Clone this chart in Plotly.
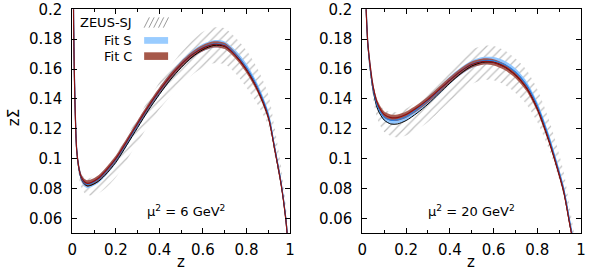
import plotly.graph_objects as go
import numpy as np

# ---------------- data ----------------
# Left panel: mu^2 = 6 GeV^2
z_left = [0.003, 0.006, 0.01, 0.014, 0.02, 0.03, 0.04, 0.055, 0.07, 0.09, 0.12, 0.15, 0.2, 0.25,
          0.3, 0.35, 0.4, 0.45, 0.5, 0.55, 0.6, 0.65, 0.7, 0.75, 0.8, 0.85, 0.9, 0.93, 0.96, 0.98, 0.99]
fitC_left = [0.26, 0.19, 0.152, 0.128, 0.106, 0.094, 0.088, 0.0845, 0.0834, 0.0842, 0.0868, 0.0912,
             0.1000, 0.1115, 0.1235, 0.135, 0.1455, 0.155, 0.163, 0.1695, 0.174, 0.1765, 0.1755,
             0.169, 0.1595, 0.1465, 0.128, 0.106, 0.082, 0.060, 0.044]
fitS_left = [0.27, 0.195, 0.155, 0.130, 0.107, 0.094, 0.0875, 0.0838, 0.0827, 0.0836, 0.0861, 0.0905,
             0.0993, 0.1108, 0.1228, 0.1344, 0.1450, 0.1548, 0.1630, 0.1697, 0.1744, 0.1768, 0.1760,
             0.1700, 0.1610, 0.1480, 0.1295, 0.107, 0.083, 0.061, 0.045]
zeus_left = [0.26, 0.19, 0.152, 0.128, 0.106, 0.0935, 0.0872, 0.0832, 0.0817, 0.0824, 0.0848, 0.0888,
             0.0975, 0.1090, 0.1208, 0.1325, 0.1430, 0.1527, 0.1610, 0.1680, 0.1730, 0.1758, 0.1752,
             0.169, 0.1595, 0.1465, 0.128, 0.106, 0.082, 0.060, 0.044]
zeus_up_left = [0.010, 0.008, 0.006, 0.005, 0.004, 0.004, 0.004, 0.004, 0.005, 0.005, 0.005, 0.005,
                0.005, 0.006, 0.006, 0.007, 0.008, 0.009, 0.010, 0.011, 0.012, 0.012, 0.012, 0.012,
                0.013, 0.014, 0.015, 0.014, 0.012, 0.010, 0.008]
zeus_dn_left = [0.010, 0.008, 0.006, 0.005, 0.005, 0.005, 0.006, 0.006, 0.006, 0.007, 0.008, 0.009,
                0.010, 0.010, 0.010, 0.010, 0.010, 0.011, 0.011, 0.012, 0.012, 0.012, 0.012, 0.012,
                0.012, 0.010, 0.006, 0.004, 0.003, 0.002, 0.002]

# Right panel: mu^2 = 20 GeV^2
z_right = [0.008, 0.012, 0.016, 0.02, 0.025, 0.035, 0.05, 0.07, 0.1, 0.13, 0.16, 0.2, 0.25, 0.3,
           0.35, 0.4, 0.45, 0.5, 0.55, 0.6, 0.65, 0.7, 0.75, 0.8, 0.85, 0.88, 0.92, 0.95, 0.97]
fitC_right = [0.30, 0.235, 0.205, 0.190, 0.177, 0.163, 0.1475, 0.1365, 0.1295, 0.1275, 0.1275, 0.1295,
              0.134, 0.1395, 0.146, 0.1525, 0.1585, 0.1630, 0.1650, 0.1645, 0.1615, 0.156, 0.1475,
              0.1335, 0.1135, 0.0995, 0.0785, 0.055, 0.040]
fitS_right = [0.31, 0.24, 0.208, 0.191, 0.177, 0.162, 0.146, 0.135, 0.1278, 0.1258, 0.1260, 0.128,
              0.133, 0.139, 0.1455, 0.1525, 0.1585, 0.1632, 0.1655, 0.1655, 0.163, 0.158, 0.1495,
              0.1355, 0.1155, 0.101, 0.080, 0.0565, 0.041]
zeus_right = [0.30, 0.235, 0.205, 0.19, 0.176, 0.161, 0.145, 0.133, 0.1258, 0.1232, 0.1232, 0.1255,
              0.1305, 0.1365, 0.1435, 0.1505, 0.157, 0.162, 0.1645, 0.1645, 0.1615, 0.156, 0.1475,
              0.1335, 0.1135, 0.0995, 0.0785, 0.055, 0.040]
zeus_up_right = [0.010, 0.008, 0.007, 0.006, 0.006, 0.006, 0.006, 0.006, 0.007, 0.008, 0.008, 0.008,
                 0.008, 0.008, 0.008, 0.009, 0.010, 0.011, 0.011, 0.011, 0.011, 0.011, 0.012, 0.013,
                 0.014, 0.014, 0.013, 0.011, 0.009]
zeus_dn_right = [0.010, 0.008, 0.007, 0.006, 0.006, 0.006, 0.006, 0.007, 0.008, 0.008, 0.009, 0.010,
                 0.011, 0.012, 0.012, 0.012, 0.012, 0.012, 0.012, 0.012, 0.012, 0.012, 0.011, 0.009,
                 0.006, 0.004, 0.003, 0.002, 0.002]

fitS_err = 0.0025
fitC_err = 0.0021

x_tickvals = [0, 0.2, 0.4, 0.6, 0.8, 1.0]
x_ticktext = ["0", "0.2", "0.4", "0.6", "0.8", "1"]
y_tickvals = [0.06, 0.08, 0.10, 0.12, 0.14, 0.16, 0.18, 0.20]
y_ticktext = ["0.06", "0.08", "0.1", "0.12", "0.14", "0.16", "0.18", "0.2"]
panel_labels = ["μ<sup>2</sup> = 6 GeV<sup>2</sup>", "μ<sup>2</sup> = 20 GeV<sup>2</sup>"]
legend_names = ["ZEUS-SJ", "Fit S", "Fit C"]
x_title = "z"
y_title = "zΣ"

# ---------------- styles ----------------
HATCH = "#808080"
BLUE_BAND = "rgba(140,196,255,0.95)"
BLUE_LINE = "#2a7fe0"
RED_BAND = "rgba(160,72,58,0.88)"
RED_LINE = "#8b1010"
FONT = "DejaVu Sans"
SP = dict(shape="spline", smoothing=0.8)

fig = go.Figure()

panels = [
    (z_left, fitS_left, fitC_left, zeus_left, zeus_up_left, zeus_dn_left, "x", "y"),
    (z_right, fitS_right, fitC_right, zeus_right, zeus_up_right, zeus_dn_right, "x2", "y2"),
]

for z, fs, fc, ze, zu, zd, xa, ya in panels:
    z = np.array(z); fs = np.array(fs); fc = np.array(fc); ze = np.array(ze)
    zu = np.array(zu); zd = np.array(zd)
    # ZEUS hatched band
    fig.add_trace(go.Scatter(x=z, y=ze - zd, mode="lines", line=dict(width=0, color=HATCH, **SP),
                             showlegend=False, hoverinfo="skip", xaxis=xa, yaxis=ya))
    fig.add_trace(go.Scatter(x=z, y=ze + zu, mode="lines", line=dict(width=0, color=HATCH, **SP),
                             fill="tonexty", fillcolor="rgba(0,0,0,0)",
                             fillpattern=dict(shape="/", fgcolor=HATCH, bgcolor="rgba(0,0,0,0)",
                                              size=6, solidity=0.2),
                             showlegend=False, hoverinfo="skip", xaxis=xa, yaxis=ya))
    # Fit S band
    fig.add_trace(go.Scatter(x=z, y=fs - fitS_err, mode="lines", line=dict(width=0, **SP),
                             showlegend=False, hoverinfo="skip", xaxis=xa, yaxis=ya))
    fig.add_trace(go.Scatter(x=z, y=fs + fitS_err, mode="lines", line=dict(width=0, **SP),
                             fill="tonexty", fillcolor=BLUE_BAND,
                             showlegend=False, hoverinfo="skip", xaxis=xa, yaxis=ya))
    # Fit C band
    fig.add_trace(go.Scatter(x=z, y=fc - fitC_err, mode="lines", line=dict(width=0, **SP),
                             showlegend=False, hoverinfo="skip", xaxis=xa, yaxis=ya))
    fig.add_trace(go.Scatter(x=z, y=fc + fitC_err, mode="lines", line=dict(width=0, **SP),
                             fill="tonexty", fillcolor=RED_BAND,
                             showlegend=False, hoverinfo="skip", xaxis=xa, yaxis=ya))
    # central lines
    fig.add_trace(go.Scatter(x=z, y=ze, mode="lines", line=dict(color="black", width=1, **SP),
                             showlegend=False, xaxis=xa, yaxis=ya))
    fig.add_trace(go.Scatter(x=z, y=fs, mode="lines", line=dict(color=BLUE_LINE, width=1.2, **SP),
                             showlegend=False, xaxis=xa, yaxis=ya))
    fig.add_trace(go.Scatter(x=z, y=fc, mode="lines", line=dict(color=RED_LINE, width=1.2, **SP),
                             showlegend=False, xaxis=xa, yaxis=ya))

axis_common = dict(showline=True, linecolor="black", linewidth=1, mirror="ticks",
                   ticks="inside", ticklen=5, tickcolor="black", tickwidth=1,
                   showgrid=False, zeroline=False, automargin=False,
                   tickfont=dict(family=FONT, size=15, color="black"))

x_dom = [[0.1209, 0.485], [0.606, 0.9716]]
y_dom = [0.1668, 0.9668]

for i, (xn, yn) in enumerate([("xaxis", "yaxis"), ("xaxis2", "yaxis2")]):
    xa = dict(axis_common, domain=x_dom[i], range=[0, 1], tickvals=x_tickvals, ticktext=x_ticktext,
              minor=dict(tickvals=[0.1, 0.3, 0.5, 0.7, 0.9], ticks="inside", ticklen=3,
                         tickcolor="black"),
              ticklabelstandoff=3,
              anchor="y" if i == 0 else "y2")
    ya = dict(axis_common, domain=y_dom, range=[0.05, 0.2], tickvals=y_tickvals, ticktext=y_ticktext,
              ticklabelstandoff=6, anchor="x" if i == 0 else "x2")
    fig.update_layout(**{xn: xa, yn: ya})

# axis titles
for xc in [0.3027, 0.7876]:
    fig.add_annotation(text=x_title, x=xc, y=0.064, xref="paper", yref="paper", showarrow=False,
                       xanchor="center", yanchor="middle",
                       font=dict(family=FONT, size=15, color="black"))
fig.add_annotation(text=y_title, x=0.024, y=0.579, xref="paper", yref="paper", showarrow=False,
                   xanchor="center", yanchor="middle", textangle=-90,
                   font=dict(family=FONT, size=15, color="black"))

# panel labels
for i, lab in enumerate(panel_labels):
    xref = "x domain" if i == 0 else "x2 domain"
    yref = "y domain" if i == 0 else "y2 domain"
    fig.add_annotation(text=lab, x=0.52 if i == 0 else 0.50, y=0.10, xref=xref, yref=yref,
                       showarrow=False, xanchor="center", yanchor="middle",
                       font=dict(family=FONT, size=13, color="black"))

# manual gnuplot-style legend (text right-aligned, sample on the right)
leg_y = [0.94, 0.862, 0.79]
for name, yy in zip(legend_names, leg_y):
    fig.add_annotation(text=name, x=0.284, y=yy, xref="x domain", yref="y domain",
                       showarrow=False, xanchor="right", yanchor="middle",
                       font=dict(family=FONT, size=13, color="black"))
# Fit S / Fit C samples
fig.add_shape(type="rect", xref="x domain", yref="y domain", x0=0.33, x1=0.44, y0=0.846, y1=0.876,
              fillcolor="#99ccff", line=dict(width=0))
fig.add_shape(type="rect", xref="x domain", yref="y domain", x0=0.33, x1=0.44, y0=0.774, y1=0.808,
              fillcolor="#a6584a", line=dict(width=0))
# hatch sample
for k in range(5):
    x0 = 0.33 + k * 0.022
    fig.add_shape(type="line", xref="x domain", yref="y domain", x0=x0, x1=x0 + 0.024,
                  y0=0.918, y1=0.964, line=dict(color=HATCH, width=0.8))

fig.update_layout(width=598, height=280, margin=dict(l=0, r=0, t=0, b=0),
                  paper_bgcolor="white", plot_bgcolor="white", showlegend=False,
                  font=dict(family=FONT, size=14, color="black"))

fig.write_html("out.html", config={"displayModeBar": False},
               post_script="document.body.style.margin='0';document.body.style.overflow='hidden';")
